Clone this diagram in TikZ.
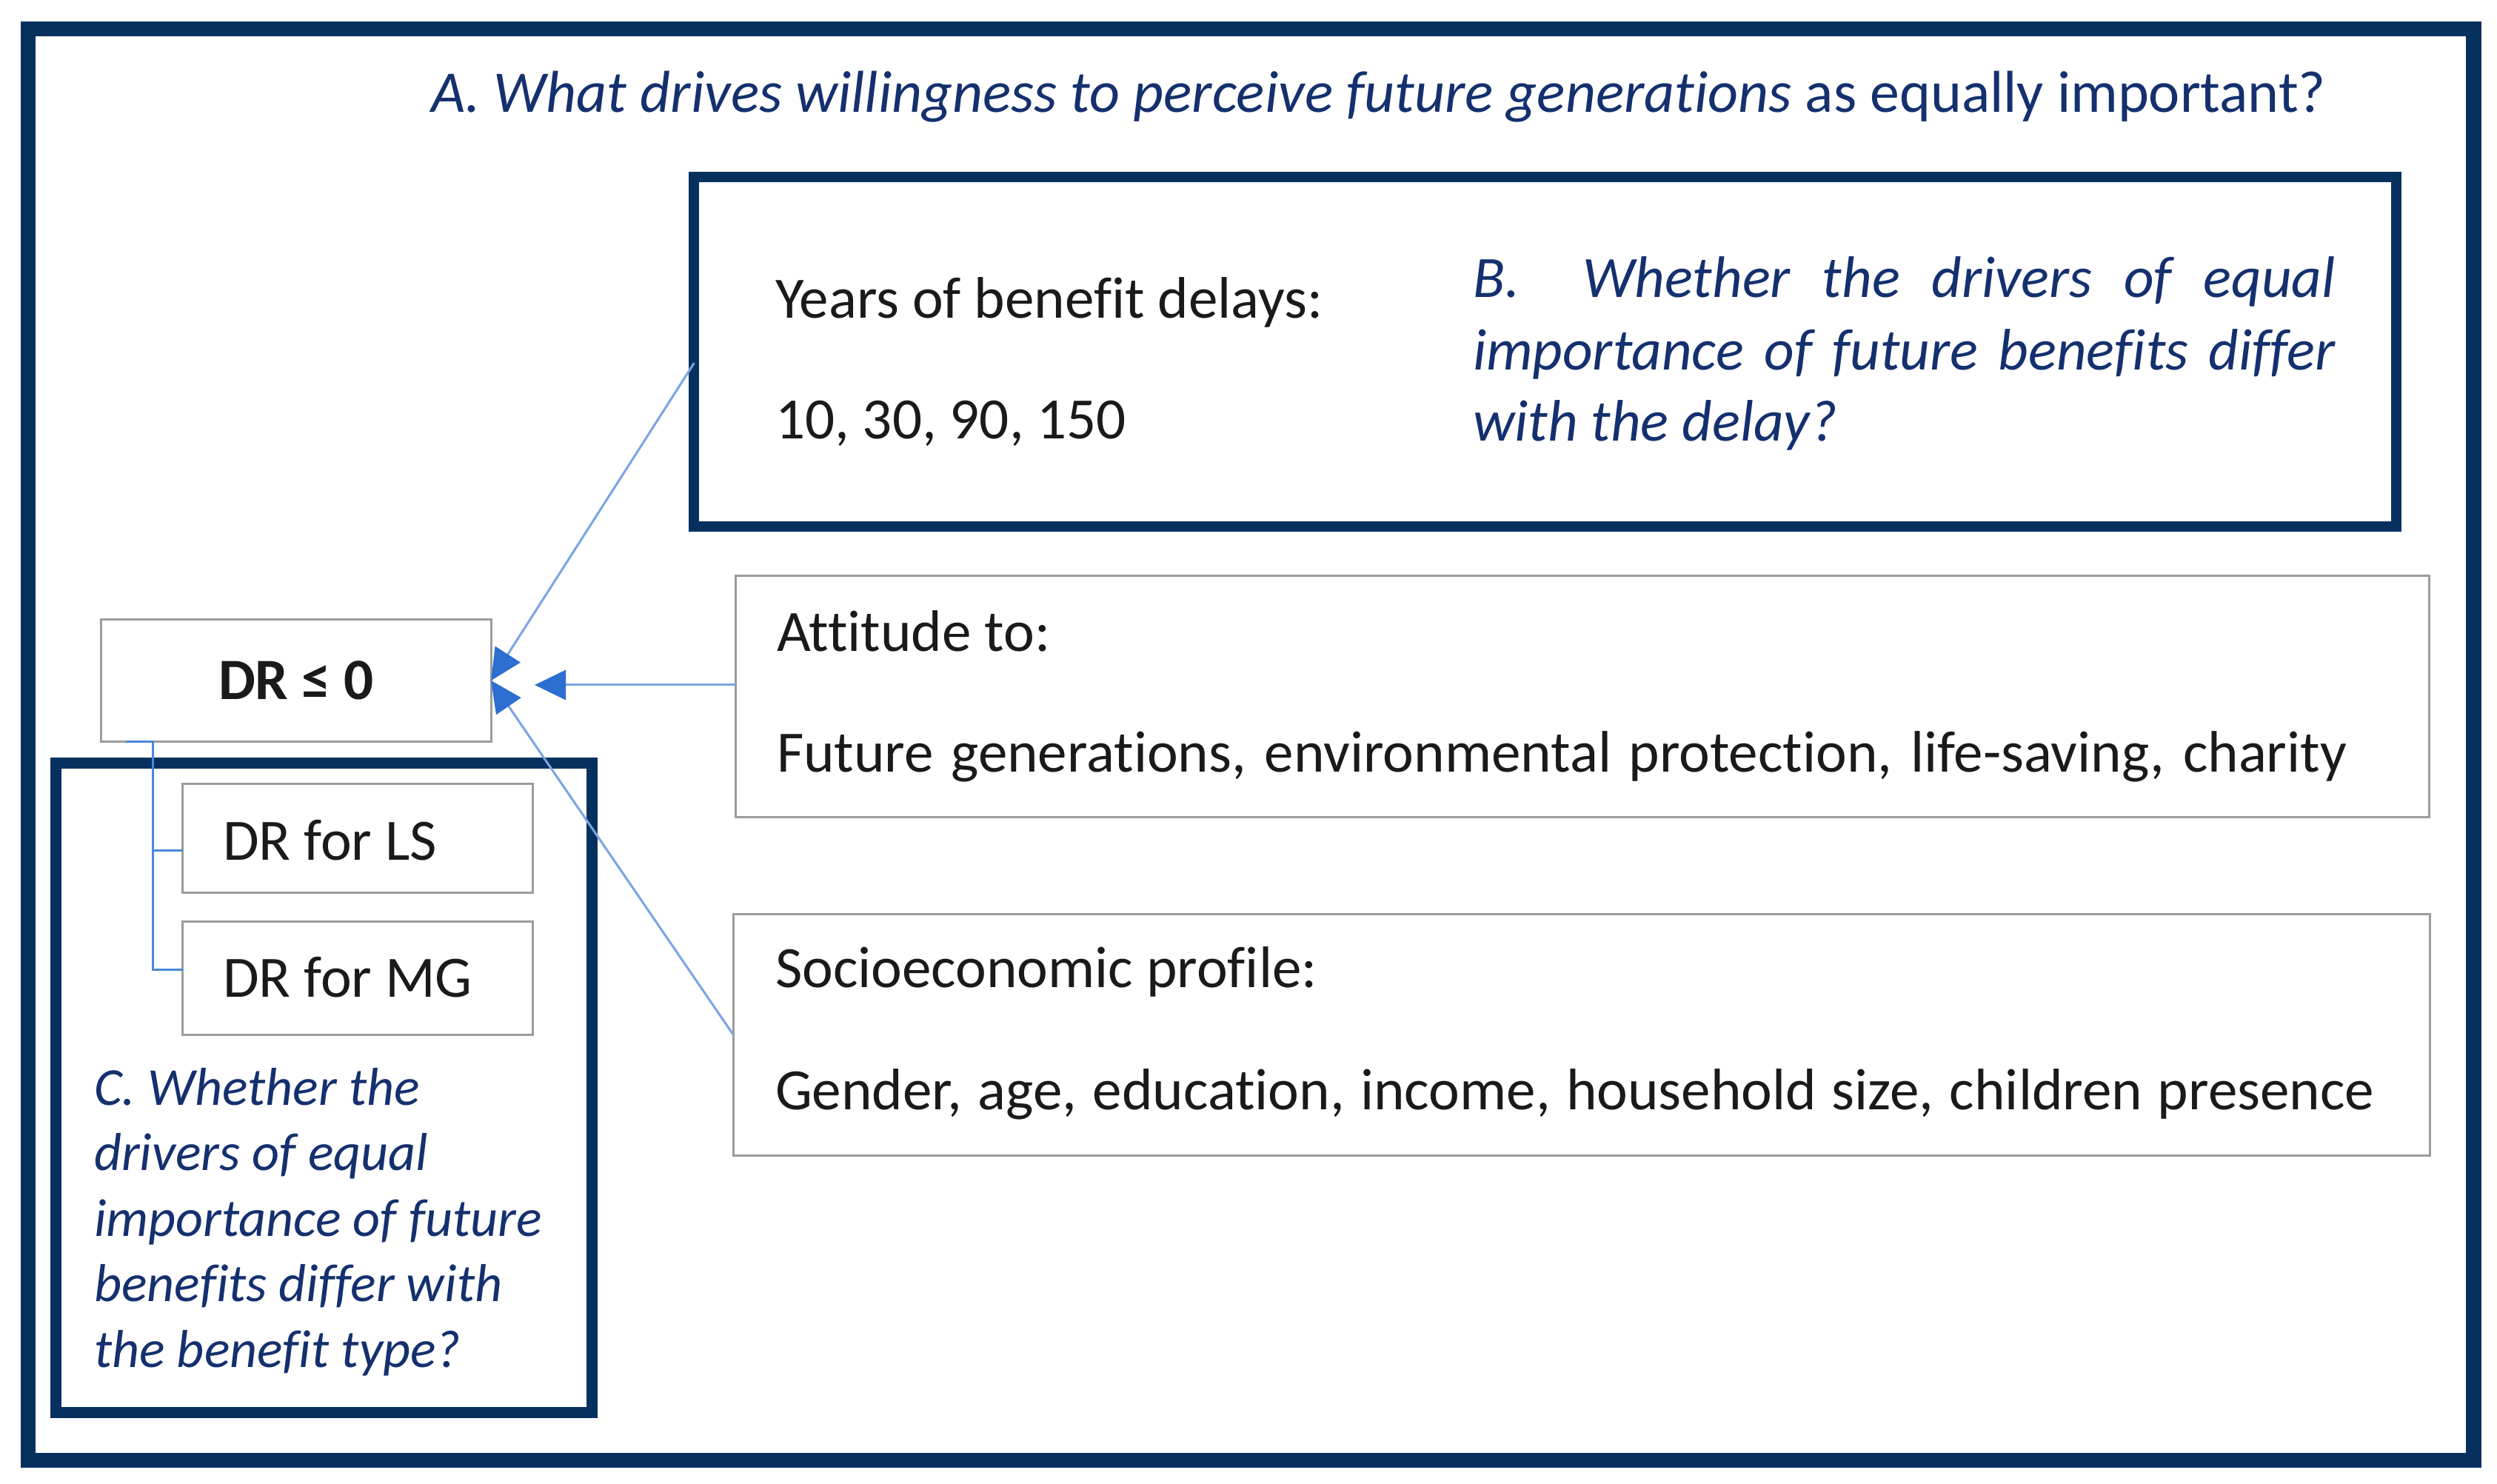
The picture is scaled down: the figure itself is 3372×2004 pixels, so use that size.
\documentclass[tikz,border=0pt]{standalone}
\usepackage{fontspec}
\setmainfont{Carlito}[Ligatures=NoCommon]
\usetikzlibrary{arrows.meta,calc}
\definecolor{navy}{HTML}{06315F}
\definecolor{qnavy}{HTML}{14306E}
\definecolor{gborder}{HTML}{9C9C9C}
\definecolor{linkblue}{HTML}{7AA5E4}
\definecolor{headblue}{HTML}{2D6ED1}
\definecolor{connblue}{HTML}{4A88DC}
\definecolor{bodytext}{HTML}{1A1A1A}
\begin{document}
\begin{tikzpicture}[x=0.01cm,y=-0.01cm,
  outerframe/.style={draw=navy,line width=0.2cm,inner sep=0,outer sep=0},
  qframe/.style={draw=navy,line width=0.14cm,inner sep=0,outer sep=0},
  gbox/.style={draw=gborder,line width=0.03cm,inner sep=0,outer sep=0,fill=white},
  txt/.style={inner sep=0,outer sep=0,anchor=base west,text=bodytext,font=\fontsize{22.5pt}{27pt}\selectfont},
  qtxt/.style={txt,text=qnavy,font=\fontsize{22.5pt}{27pt}\selectfont\itshape},
  ctxt/.style={txt,text=qnavy,font=\fontsize{20.5pt}{25pt}\selectfont\itshape},
  arr/.style={draw=linkblue,line width=0.03cm,-{Triangle[length=0.42cm,width=0.4cm,color=headblue]}},
  conn/.style={draw=connblue,line width=0.03cm}]
\useasboundingbox (0,0) rectangle (3372,2004);
\fill[white] (0,0) rectangle (3372,2004);

% frames
\node[outerframe,minimum width=33.01cm,minimum height=19.315cm] (outer) at (1689,1005.25) {};
\node[qframe,minimum width=22.97cm,minimum height=4.715cm] (bq) at (2086.5,475.25) {};
\node[qframe,line width=0.15cm,minimum width=7.23cm,minimum height=8.76cm] (cq) at (437.5,1469) {};

% title
\node[txt,text=qnavy,font=\fontsize{22.7pt}{27pt}\selectfont] (title) at (582,152) {{\itshape A. What drives willingness to perceive future generations} as equally important?};

% grey boxes
\node[gbox,minimum width=5.26cm,minimum height=1.64cm,text=bodytext,font=\fontsize{22.5pt}{27pt}\selectfont\bfseries] (dr) at (400,919) {DR ≤ 0};
\node[gbox,minimum width=4.72cm,minimum height=1.46cm] (ls) at (483,1132) {};
\node[gbox,minimum width=4.72cm,minimum height=1.52cm] (mg) at (483,1321) {};
\node[gbox,minimum width=22.86cm,minimum height=3.25cm] (att) at (2137,940.5) {};
\node[gbox,minimum width=22.90cm,minimum height=3.25cm] (soc) at (2136,1397.5) {};

% box texts
\node[txt] (lsT) at (301,1162) {DR for LS};
\node[txt] (mgT) at (301,1346) {DR for MG};
\node[txt] (yrs) at (1047,430) {Years of benefit delays:};
\node[txt] (yrsv) at (1047,593) {10, 30, 90, 150};
\node[txt] (attT) at (1049,880) {Attitude to:};
\node[txt] (attV) at (1049,1043) {\makebox[21.19cm][s]{Future generations, environmental protection, life-saving, charity}};
\node[txt] (socT) at (1047,1333) {Socioeconomic profile:};
\node[txt] (socV) at (1047,1498) {\makebox[21.58cm][s]{Gender, age, education, income, household size, children presence}};

% question B
\node[qtxt] (b1) at (1989,402) {\makebox[11.64cm][s]{B.\ \ Whether the drivers of equal}};
\node[qtxt] (b2) at (1989,500) {\makebox[11.64cm][s]{importance of future benefits differ}};
\node[qtxt] (b3) at (1989,596) {with the delay?};

% question C
\node[ctxt] (c1) at (127,1492) {C. Whether the};
\node[ctxt] (c2) at (127,1580) {drivers of equal};
\node[ctxt] (c3) at (127,1669) {importance of future};
\node[ctxt] (c4) at (127,1757) {benefits differ with};
\node[ctxt] (c5) at (127,1846) {the benefit type?};

% connectors
\draw[conn] ([xshift=0.33cm]dr.south west) -- ++(37,0) |- ([yshift=-0.16cm]ls.west);
\draw[conn] ([xshift=0.33cm]dr.south west) -- ++(37,0) |- ([yshift=0.11cm]mg.west);

\coordinate (mtip) at (722,925);
\draw[arr] ([yshift=-0.15cm]bq.west) -- (dr.east);
\draw[arr] (att.west |- mtip) -- (mtip);
\draw[arr] (soc.west) -- (dr.east);
\end{tikzpicture}
\end{document}
